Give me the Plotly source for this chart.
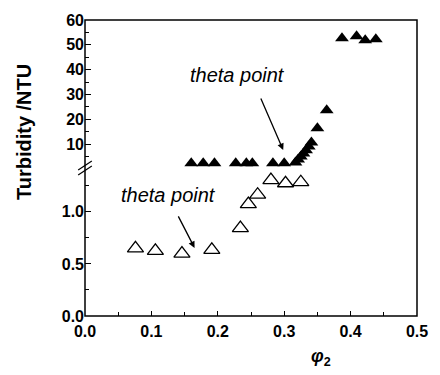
import plotly.graph_objects as go

# Open triangles: low-concentration series (lower y segment)
open_x = [0.076, 0.106, 0.146, 0.191, 0.234, 0.246, 0.260, 0.280, 0.302, 0.325]
open_y = [0.65, 0.625, 0.60, 0.635, 0.845, 1.075, 1.165, 1.305, 1.275, 1.285]

# Filled triangles: high-concentration series (upper y segment)
fill_x = [0.160, 0.178, 0.195, 0.227, 0.243, 0.252, 0.283, 0.300,
          0.317, 0.321, 0.325, 0.329, 0.333, 0.337, 0.341, 0.350, 0.364,
          0.387, 0.409, 0.422, 0.438]
fill_y = [2.3, 2.3, 2.3, 2.3, 2.3, 2.3, 2.3, 2.3,
          2.6, 3.8, 5.0, 6.2, 7.5, 9.0, 10.6, 16.4, 23.6,
          52.6, 53.4, 51.8, 52.2]

x_ticks = [0.0, 0.1, 0.2, 0.3, 0.4, 0.5]
low_ticks = [0.0, 0.5, 1.0]
high_ticks = [10, 20, 30, 40, 50, 60]

FONT = "Arial, Liberation Sans, sans-serif"
SPLIT = 0.51


def bold_labels(values, fmt):
    return ["<b>" + fmt.format(v) + "</b>" for v in values]


fig = go.Figure()
fig.add_trace(go.Scatter(
    x=open_x, y=open_y, mode="markers", xaxis="x", yaxis="y",
    marker=dict(symbol="triangle-up-open", size=14, color="black",
                line=dict(width=1.3, color="black")),
    cliponaxis=False, showlegend=False))
fig.add_trace(go.Scatter(
    x=fill_x, y=fill_y, mode="markers", xaxis="x", yaxis="y2",
    marker=dict(symbol="triangle-up", size=12, color="black",
                line=dict(width=0)),
    cliponaxis=False, showlegend=False))

tickfont = dict(family=FONT, size=16, color="black")

fig.update_layout(
    width=440, height=375,
    margin=dict(l=85, r=15, t=20, b=59),
    paper_bgcolor="white", plot_bgcolor="white",
    font=dict(family=FONT, color="black"),
    xaxis=dict(range=[0, 0.5], tickvals=x_ticks,
               ticktext=bold_labels(x_ticks, "{:.1f}"),
               ticks="inside", ticklen=5, tickwidth=1.2, tickcolor="black",
               minor=dict(ticks="inside", ticklen=4, dtick=0.05, tickcolor="black", tickwidth=1.2),
               showgrid=False, zeroline=False, showline=False,
               ticklabelstandoff=4,
               tickfont=tickfont, anchor="y"),
    yaxis=dict(domain=[0, SPLIT], range=[0, 1.45], tickvals=low_ticks,
               ticktext=bold_labels(low_ticks, "{:.1f}"),
               ticks="inside", ticklen=6, tickwidth=1.2, tickcolor="black",
               minor=dict(ticks="inside", ticklen=4, dtick=0.25, tickcolor="black", tickwidth=1.2),
               showgrid=False, zeroline=False, showline=False,
               tickfont=tickfont, anchor="x"),
    yaxis2=dict(domain=[SPLIT, 1], range=[1.53, 60], tickvals=high_ticks,
                ticktext=bold_labels(high_ticks, "{:d}"),
                ticks="inside", ticklen=6, tickwidth=1.2, tickcolor="black",
                minor=dict(ticks="inside", ticklen=4, tick0=0, dtick=5, tickcolor="black", tickwidth=1.2),
                showgrid=False, zeroline=False, showline=False,
                tickfont=tickfont, anchor="x"),
)

# Frame around the plotting area
fig.add_shape(type="rect", xref="paper", yref="paper", x0=0, x1=1, y0=0, y1=1,
              line=dict(color="black", width=1.5), layer="above")

# Axis-break marks on the left axis
px_x = 1 / 340
px_y = 1 / 296
for dy in (0, 5):
    fig.add_shape(type="line", xref="paper", yref="paper",
                  x0=-7 * px_x, x1=7 * px_x,
                  y0=(316 - 170 - dy) * px_y, y1=(316 - 161 - dy) * px_y,
                  line=dict(color="black", width=1.2))

ann_font = dict(family=FONT, size=20, color="black", style="italic")
fig.add_annotation(x=0.229, y=37.8, xref="x", yref="y2", text="theta point",
                   xanchor="center", yanchor="middle",
                   showarrow=False, font=ann_font)
fig.add_annotation(x=0.2985, y=7.6, xref="x", yref="y2", ax=-23, ay=-53,
                   showarrow=True, arrowhead=2, arrowsize=1, arrowwidth=1.3,
                   arrowcolor="black", text="")
fig.add_annotation(x=0.125, y=1.163, xref="x", yref="y", text="theta point",
                   xanchor="center", yanchor="middle",
                   showarrow=False, font=ann_font)
fig.add_annotation(x=0.165, y=0.654, xref="x", yref="y", ax=-17, ay=-33,
                   showarrow=True, arrowhead=2, arrowsize=1, arrowwidth=1.3,
                   arrowcolor="black", text="")

# Axis titles
fig.add_annotation(x=-0.182, y=0.62, xref="paper", yref="paper",
                   xanchor="center", yanchor="middle",
                   text="<b>Turbidity /NTU</b>", textangle=-90, showarrow=False,
                   font=dict(family=FONT, size=20, color="black"))
fig.add_annotation(x=0.712, y=-0.14, xref="paper", yref="paper",
                   xanchor="center", yanchor="middle",
                   text="<b><i>φ</i><sub>2</sub></b>", showarrow=False,
                   font=dict(family=FONT, size=18, color="black"))

fig.write_html("out.html")
